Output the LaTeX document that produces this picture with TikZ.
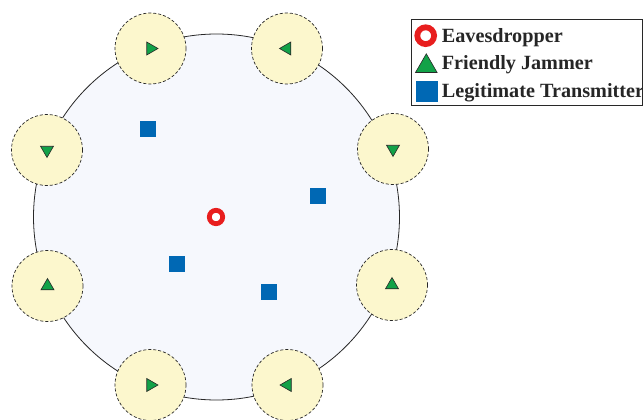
\documentclass[tikz,border=0pt]{standalone}
\usepackage{fontspec}
\setmainfont{Liberation Serif}
\usetikzlibrary{shapes.geometric}

\definecolor{areafill}{RGB}{246,248,253}
\definecolor{zonefill}{RGB}{252,247,205}
\definecolor{jamgreen}{RGB}{18,162,72}
\definecolor{txblue}{RGB}{0,104,180}
\definecolor{evered}{RGB}{232,30,30}
\definecolor{edgegray}{RGB}{40,40,40}

\tikzset{
  area/.style={circle, draw=edgegray, line width=0.8pt, fill=areafill,
    minimum size=366pt, inner sep=0pt},
  zone/.style={circle, draw=edgegray, dashed, dash pattern=on 3pt off 2pt,
    line width=0.7pt, fill=zonefill, minimum size=71pt, inner sep=0pt},
  jammer/.style={regular polygon, regular polygon sides=3, draw=edgegray,
    line width=0.6pt, fill=jamgreen, minimum size=15pt, inner sep=0pt},
  bigjammer/.style={jammer, minimum size=25pt},
  transmitter/.style={rectangle, fill=txblue, minimum size=16pt, inner sep=0pt},
  bigtransmitter/.style={transmitter, minimum size=21.5pt},
  eve/.style={circle, draw=evered, fill=white, line width=4.8pt,
    minimum size=13.4pt, inner sep=0pt},
  bigeve/.style={eve, line width=5.8pt, minimum size=16.8pt},
  legendbox/.style={draw=edgegray, line width=0.9pt, fill=white},
  legendtext/.style={anchor=base west, inner sep=0pt,
    font=\fontsize{20.2}{24}\selectfont\bfseries, text=black!85}
}

\begin{document}
\begin{tikzpicture}[x=1pt, y=-1pt]
  \useasboundingbox (0,0) rectangle (643,420);

  % coverage area
  \node[area] (area) at (216.5,217) {};

  % friendly jammer zones on the boundary
  \node[zone] (z1) at (150.5,48.5) {};
  \node[zone] (z2) at (287,48.5) {};
  \node[zone] (z3) at (393,149) {};
  \node[zone] (z4) at (392,285) {};
  \node[zone] (z5) at (287.5,385) {};
  \node[zone] (z6) at (150.5,385) {};
  \node[zone] (z7) at (47.5,286) {};
  \node[zone] (z8) at (47,150) {};

  % jammers, pointing in their orientation
  \node[jammer, rotate=-90] (j1) at (z1.center) {};
  \node[jammer, rotate=90]  (j2) at (z2.center) {};
  \node[jammer, rotate=180] (j3) at (z3.center) {};
  \node[jammer]             (j4) at (z4.center) {};
  \node[jammer, rotate=90]  (j5) at (z5.center) {};
  \node[jammer, rotate=-90] (j6) at (z6.center) {};
  \node[jammer]             (j7) at (z7.center) {};
  \node[jammer, rotate=180] (j8) at (z8.center) {};

  % legitimate transmitters
  \node[transmitter] (t1) at (148,129) {};
  \node[transmitter] (t2) at (318,196) {};
  \node[transmitter] (t3) at (177,264) {};
  \node[transmitter] (t4) at (269,292) {};

  % eavesdropper
  \node[eve] (eve) at (216,217) {};

  % legend
  \draw[legendbox] (411,19.7) rectangle (642.3,105.7);
  \node[bigeve] (leve) at (425.7,35.7) {};
  \node[legendtext] (leveT) at (441.7,42.3) {Eavesdropper};
  \node[bigjammer] (ljam) at (426.3,66.3) {};
  \node[legendtext] (ljamT) at (441.7,70) {Friendly Jammer};
  \node[bigtransmitter] (ltx) at (426.8,91.7) {};
  \node[legendtext] (ltxT) at (441.7,97.7) {Legitimate Transmitter};
\end{tikzpicture}
\end{document}
